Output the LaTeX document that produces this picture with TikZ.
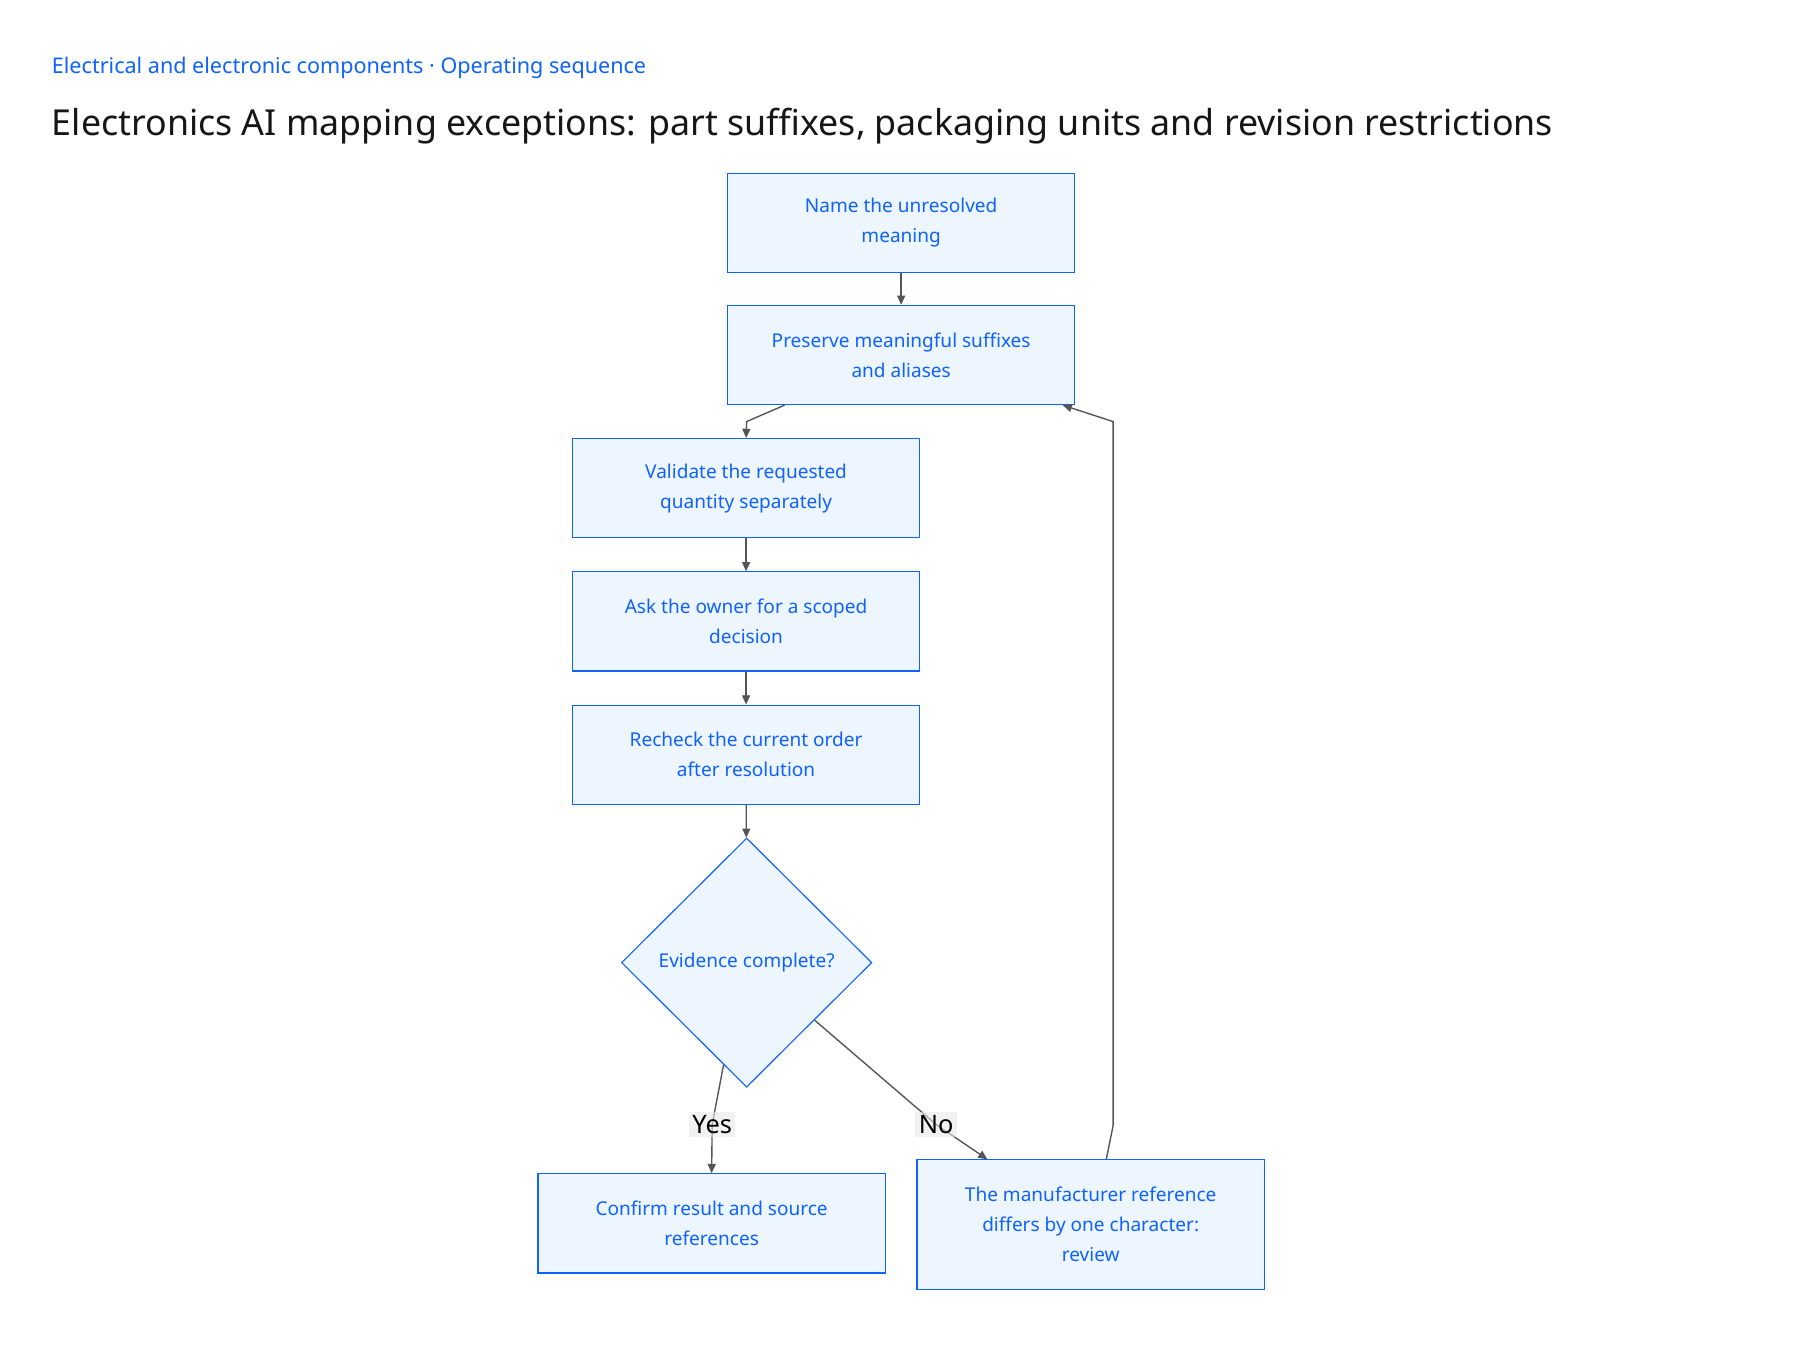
\documentclass[tikz,border=0pt]{standalone}
\usepackage{fontspec}
\setmainfont{Noto Sans}
\usetikzlibrary{shapes.geometric,arrows.meta}

\definecolor{stepblue}{HTML}{0F62FE}
\definecolor{stepfill}{HTML}{EDF5FF}
\definecolor{edgegray}{HTML}{555555}
\definecolor{titleblack}{HTML}{161616}
\definecolor{labelgray}{HTML}{E8E8E8}

\tikzset{
	stepbox/.style={draw=stepblue, fill=stepfill, line width=1pt, minimum width=301pt, minimum height=86pt,
		align=center, text=stepblue, font=\fontsize{16.5}{26}\selectfont},
	decision/.style={diamond, draw=stepblue, fill=stepfill, line width=1pt, minimum width=217pt, minimum height=216pt,
		inner sep=0pt, text=stepblue, font=\fontsize{16.5}{26}\selectfont},
	flow/.style={draw=edgegray, line width=1.2pt, -{Triangle[length=8pt,width=7pt]}},
	edgelabel/.style={fill=labelgray, fill opacity=0.6, text opacity=1, text=black, inner sep=3pt,
		font=\fontsize{22}{26}\selectfont}
}

\begin{document}
\begin{tikzpicture}[x=0.9955pt,y=-0.9955pt]
	
	\useasboundingbox[fill=white] (0,0) rectangle (1567,1175.3);
	
	\node[anchor=west, inner sep=0pt, text=stepblue, font=\fontsize{18.7}{22}\selectfont] (crumb) at (45,59)
		{Electrical and electronic components · Operating sequence};
	\node[anchor=west, inner sep=0pt, text=titleblack, font=\fontsize{31}{36}\selectfont] (title) at (45,110)
		{Electronics AI mapping exceptions: part suffixes, packaging units and revision restrictions};
	
	\node[stepbox] (name) at (784.5,194) {Name the unresolved\\meaning};
	\node[stepbox] (suffix) at (784.5,309) {Preserve meaningful suffixes\\and aliases};
	\node[stepbox] (qty) at (649.5,425) {Validate the requested\\quantity separately};
	\node[stepbox] (owner) at (649.5,541) {Ask the owner for a scoped\\decision};
	\node[stepbox] (recheck) at (649.5,657) {Recheck the current order\\after resolution};
	\node[decision] (evidence) at (650,838) {Evidence complete?};
	\node[stepbox] (confirm) at (619.5,1065) {Confirm result and source\\references};
	\node[stepbox, minimum height=112pt] (review) at (949.5,1066)
		{The manufacturer reference\\differs by one character:\\review};
	
	\draw[flow] (name) -- (suffix);
	\draw[flow] ([xshift=-101pt]suffix.south) -- (650,367) -- (qty.north);
	\draw[flow] (qty) -- (owner);
	\draw[flow] (owner) -- (recheck);
	\draw[flow] (recheck) -- (evidence);
	
	% yes / no branches
	\draw[flow] ([shift={(-20pt,20pt)}]evidence.south) -- (620,979) node[edgelabel]{Yes} -- (confirm.north);
	\draw[flow] ([shift={(59pt,-50pt)}]evidence.center) -- (815,979) node[edgelabel]{No} -- ([xshift=-89.5pt]review.north);
	
	%back to the suffix step
	\draw[flow] ([xshift=13.5pt]review.north) -- (969,980) -- (969,367) -- ([xshift=140pt]suffix.south);
	
\end{tikzpicture}
\end{document}
